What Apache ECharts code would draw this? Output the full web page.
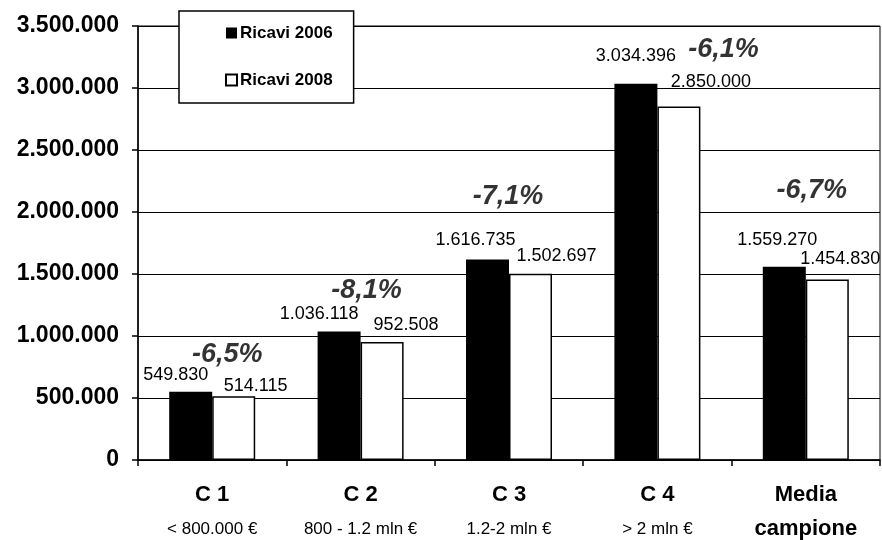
<!DOCTYPE html>
<html>
<head>
<meta charset="utf-8">
<script src="https://cdn.jsdelivr.net/npm/echarts@6/dist/echarts.min.js"></script>
<style>
  html, body { margin: 0; padding: 0; background: #fff; }
  #chart { width: 882px; height: 540px; }
</style>
</head>
<body>
<div id="chart"></div>
<script>
// Categories (size classes) and their sub-captions
const classNames = ['C 1', 'C 2', 'C 3', 'C 4', 'Media'];
const classRanges = ['< 800.000 €', '800 - 1.2 mln €', '1.2-2 mln €', '> 2 mln €', 'campione'];

// Revenue per class
const ricavi2006 = [549830, 1036118, 1616735, 3034396, 1559270];
const ricavi2008 = [514115, 952508, 1502697, 2850000, 1454830];

// Value axis
const yMin = 0, yMax = 3500000, yStep = 500000;

// Label nudges (pixels, centre of label relative to top-centre of its bar)
const nudge2006 = [[-15, -17], [-20, -17], [-12, -19], [0, -28], [-7, -27]];
const nudge2008 = [[22, -10], [24, -17], [26, -18], [32, -25], [13, -21]];
// Change-label nudges relative to the top-centre of each category's 2006 bar
const nudgeChange = [[15, -37], [6, -41], [-1, -63], [66, -34], [6, -76]];

const FONT = '"Liberation Sans", Arial, sans-serif';

function itNumber(v) {
  return String(Math.round(v)).replace(/\B(?=(\d{3})+(?!\d))/g, '.');
}
function changeText(a, b) {
  return ((b - a) / a * 100).toFixed(1).replace('.', ',') + '%';
}

const chart = echarts.init(document.getElementById('chart'), null, { renderer: 'canvas' });

function barData(values, nudges) {
  return values.map((v, i) => ({
    value: v,
    label: { offset: [nudges[i][0], nudges[i][1] + 9] }
  }));
}

const option = {
  animation: false,
  backgroundColor: '#ffffff',
  textStyle: { fontFamily: FONT },
  grid: {
    left: 138, right: 2, top: 26, bottom: 77,
    show: true, borderColor: '#000', borderWidth: 1, backgroundColor: 'transparent'
  },
  legend: {
    data: ['Ricavi 2006', 'Ricavi 2008'],
    orient: 'vertical',
    left: 179, top: 11,
    padding: [13.5, 21, 14.5, 46],
    itemGap: 30,
    itemWidth: 11, itemHeight: 11,
    icon: 'rect',
    backgroundColor: '#fff',
    borderColor: '#000', borderWidth: 1.5,
    textStyle: { fontFamily: FONT, fontSize: 17, fontWeight: 'bold', color: '#000', lineHeight: 17, padding: [0, 0, 0, -2] },
    z: 10
  },
  xAxis: {
    type: 'category',
    data: classNames,
    axisLine: { lineStyle: { color: '#000', width: 1.5 } },
    axisTick: { show: true, length: 6, lineStyle: { color: '#000', width: 1.5 } },
    axisLabel: {
      margin: 18,
      interval: 0,
      formatter: function (value, idx) {
        const sub = classRanges[idx];
        return '{main|' + value + '}\n{' + (idx === classNames.length - 1 ? 'main' : 'sub') + '|' + sub + '}';
      },
      rich: {
        main: { fontFamily: FONT, fontSize: 22, fontWeight: 'bold', color: '#000', lineHeight: 34 },
        sub: { fontFamily: FONT, fontSize: 17, color: '#000', lineHeight: 34 }
      }
    },
    splitLine: { show: false }
  },
  yAxis: {
    type: 'value',
    min: yMin, max: yMax, interval: yStep,
    axisLine: { show: true, lineStyle: { color: '#000', width: 1.5 } },
    axisTick: { show: true, length: 6, lineStyle: { color: '#000', width: 1.5 } },
    axisLabel: {
      margin: 19,
      fontFamily: FONT, fontSize: 23, fontWeight: 'bold', color: '#000',
      formatter: itNumber
    },
    splitLine: { show: true, lineStyle: { color: '#000', width: 1 } }
  },
  series: [
    {
      name: 'Ricavi 2006',
      type: 'bar',
      data: barData(ricavi2006, nudge2006),
      barWidth: 43,
      barGap: '0%',
      itemStyle: { color: '#000', borderColor: '#000', borderWidth: 0 },
      label: {
        show: true, position: 'top', distance: 0,
        fontFamily: FONT, fontSize: 18, color: '#000',
        formatter: p => itNumber(p.value)
      },
      z: 2
    },
    {
      name: 'Ricavi 2008',
      type: 'bar',
      data: barData(ricavi2008, nudge2008),
      barWidth: 43,
      itemStyle: { color: '#fff', borderColor: '#000', borderWidth: 1.5 },
      label: {
        show: true, position: 'top', distance: 0,
        fontFamily: FONT, fontSize: 18, color: '#000',
        formatter: p => itNumber(p.value)
      },
      z: 2
    },
    {
      name: 'variazione',
      type: 'scatter',
      symbolSize: 0,
      silent: true,
      data: ricavi2006.map((v, i) => ({
        value: [i, v],
        label: { offset: nudgeChange[i] }
      })),
      label: {
        show: true, position: 'inside',
        fontFamily: FONT, fontSize: 27, fontWeight: 'bold', fontStyle: 'italic', color: '#000',
        formatter: p => changeText(ricavi2006[p.dataIndex], ricavi2008[p.dataIndex])
      },
      z: 5
    }
  ]
};

chart.setOption(option);
</script>
</body>
</html>
